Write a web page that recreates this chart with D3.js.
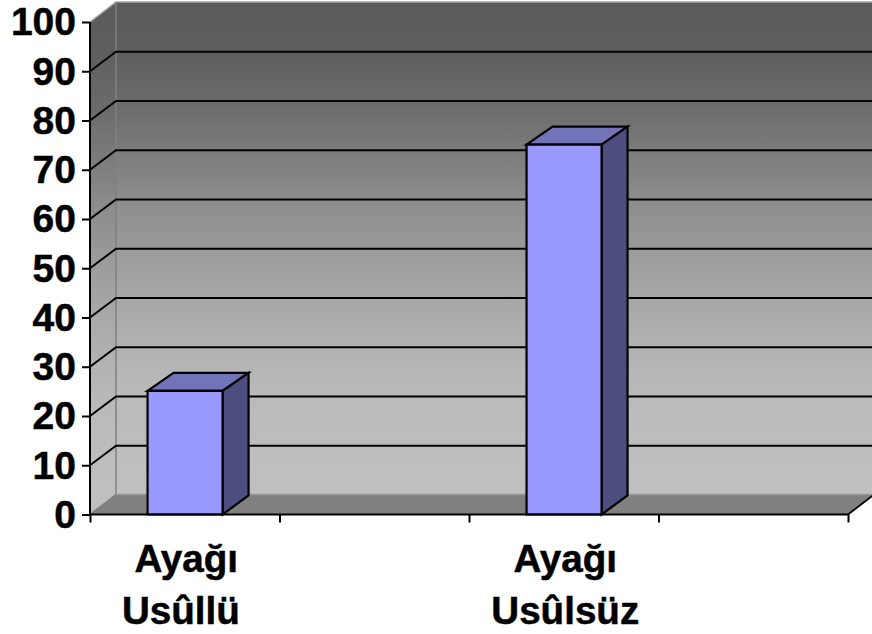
<!DOCTYPE html>
<html><head><meta charset="utf-8">
<script src="https://cdnjs.cloudflare.com/ajax/libs/d3/7.8.5/d3.min.js"></script>
<style>html,body{margin:0;padding:0;background:#fff;overflow:hidden}svg{display:block}
text{font-family:"Liberation Sans",Arial,sans-serif;font-weight:700;fill:#000;stroke:#000;stroke-width:0.5px}</style>
</head><body><svg id="c" width="872" height="634"></svg>
<script>
const categories = ["a", "b", "c", "d"];
const labelLines = [["Ayağı", "Usûllü "], [], ["Ayağı", "Usûlsüz"], []];
const values = [25, null, 75, null];
const yTicks = [0, 10, 20, 30, 40, 50, 60, 70, 80, 90, 100];
const wallStops = [[0, "#5a5a5a"], [0.1, "#5f5f5f"], [0.2, "#6a6a6a"], [0.3, "#7b7b7b"], [0.4, "#8c8c8c"], [0.5, "#9a9a9a"], [0.6, "#a7a7a7"], [0.7, "#b2b2b2"], [0.8, "#bababa"], [1, "#c0c0c0"]];

const depthX = 26, depthY = 20, gridDepthY = 19.5, barDepthY = 18, barW = 75;
const svg = d3.select("#c");
const x = d3.scaleBand().domain(categories).range([90, 848]);
const y = d3.scaleLinear().domain([0, 100]).range([514.5, 22]);
const line = d3.line();
const poly = (pts, fill, stroke, sw) => svg.append("path").attr("d", line(pts) + "Z")
  .attr("fill", fill).attr("stroke", stroke || "none").attr("stroke-width", sw || 0).attr("stroke-linejoin", "miter");

const defs = svg.append("defs");
const grad = defs.append("linearGradient").attr("id", "wall").attr("x1", 0).attr("y1", 0).attr("x2", 0).attr("y2", 1);
wallStops.forEach(s => grad.append("stop").attr("offset", s[0]).attr("stop-color", s[1]));

const X0 = x.range()[0], X1 = x.range()[1], Y0 = y(0), YT = y(100);
poly([[X0 + depthX, YT - depthY], [872, YT - depthY], [872, Y0 - depthY], [X0 + depthX, Y0 - depthY]], "url(#wall)");
poly([[X0, YT], [X0 + depthX, YT - depthY], [X0 + depthX, Y0 - depthY], [X0, Y0]], "url(#wall)");
poly([[X0, Y0], [X0 + depthX, Y0 - depthY], [X1 + depthX, Y0 - depthY], [X1, Y0]], "#808080");
svg.append("path").attr("d", line([[X0, YT], [X0 + depthX, YT - depthY], [872, YT - depthY]])).attr("fill", "none").attr("stroke", "#a6a6a6").attr("stroke-width", 1.5);
svg.append("path").attr("d", line([[X0 + depthX, YT - depthY], [X0 + depthX, Y0 - depthY], [X0, Y0]])).attr("fill", "none").attr("stroke", "#808080").attr("stroke-width", 1.5);
svg.append("path").attr("d", line([[X0 + depthX, Y0 - depthY], [872, Y0 - depthY]])).attr("fill", "none").attr("stroke", "#969696").attr("stroke-width", 1.5);
svg.append("path").attr("d", line([[X1, Y0], [X1 + depthX, Y0 - depthY]])).attr("fill", "none").attr("stroke", "#000").attr("stroke-width", 1.8);

yTicks.filter(t => t > 0 && t < 100).forEach(t => {
  svg.append("path").attr("d", line([[X0, y(t)], [X0 + depthX, y(t) - gridDepthY], [872, y(t) - gridDepthY]]))
    .attr("fill", "none").attr("stroke", "#000").attr("stroke-width", 2);
});

categories.forEach((c, i) => {
  const v = values[i];
  if (v == null) return;
  const cx = x(c) + x.bandwidth() / 2 + 0.3, l = cx - barW / 2, r = cx + barW / 2, t = y(v) - 0.5, b = y(0);
  const s = 2.2;
  poly([[l, t], [l + depthX, t - barDepthY], [r + depthX, t - barDepthY], [r, t]], "#7373b9", "#000", s);
  poly([[r, t], [r + depthX, t - barDepthY], [r + depthX, b - barDepthY - 1], [r, b]], "#4d4d80", "#000", s);
  poly([[l, t], [r, t], [r, b], [l, b]], "#9999ff", "#000", s);
});

const yAxis = svg.append("g").attr("transform", `translate(${X0},0)`)
  .call(d3.axisLeft(y).tickValues(yTicks).tickSize(8).tickPadding(6));
yAxis.selectAll("text").attr("font-size", 39).attr("dy", "0.33em");

const xTickVals = categories.map(c => x(c)).concat(X1);
const xAxis = svg.append("g").attr("transform", `translate(0,${Y0})`)
  .call(d3.axisBottom(d3.scaleIdentity().domain([X0, X1]).range([X0, X1])).tickValues(xTickVals).tickSize(8).tickFormat(""));
[yAxis, xAxis].forEach(g => {
  g.selectAll("path.domain").attr("stroke", "#000").attr("stroke-width", 2);
  g.selectAll("line").attr("stroke", "#000").attr("stroke-width", 2);
});
yAxis.select("path.domain").attr("d", line([[0, YT], [0, Y0]]));
xAxis.select("path.domain").attr("d", line([[X0, 0], [X1, 0]]));

categories.forEach((c, i) => {
  labelLines[i].forEach((t, j) => {
    svg.append("text").attr("x", x(c) + x.bandwidth() / 2 + 1.5).attr("y", 572 + j * 52)
      .attr("text-anchor", "middle").attr("font-size", 38.6).style("white-space", "pre").text(t);
  });
});
</script></body></html>
